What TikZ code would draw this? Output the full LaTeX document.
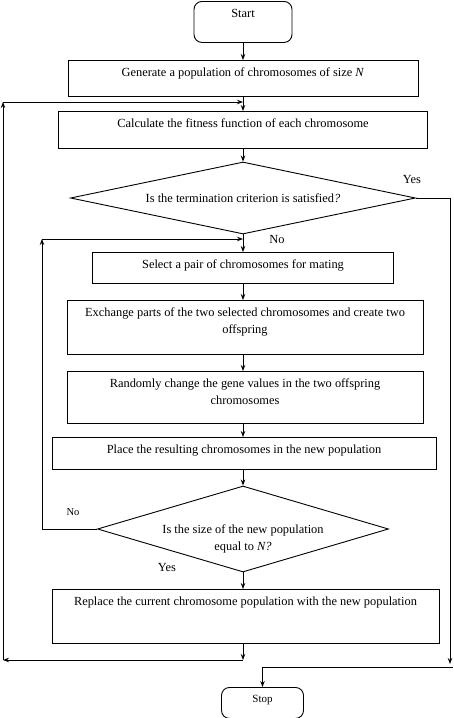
\documentclass[tikz,border=0pt]{standalone}
\usepackage{fontspec}
\setmainfont{Liberation Serif}
\usepackage{tikz}
\usetikzlibrary{arrows.meta,positioning,shapes.geometric}

\begin{document}
\begin{tikzpicture}[x=1pt,y=-1pt,font=\fontsize{12.4}{16.5}\selectfont]
	\tikzstyle{startstop} = [rectangle, rounded corners=8pt, draw=black, line width=0.9pt, 
	align=center, inner ysep=5pt, text height=11.5pt, anchor=north]
	\tikzstyle{process} = [rectangle, draw=black, line width=0.9pt, 
	align=center, inner ysep=5pt, text height=11.5pt, anchor=north]
	\tikzstyle{decision} = [diamond, draw=black, line width=0.9pt, inner sep=0pt, aspect=4]
	\tikzstyle{arrow} = [line width=0.9pt,-{Stealth[length=6pt,width=4.5pt]}]
	\tikzstyle{line} = [line width=0.9pt]
	\useasboundingbox (0,0) rectangle (453,718);
	\node (start) [startstop, minimum width=98pt, text depth=19.5pt] at (243,1) {Start};
	\node (generate) [process, minimum width=350pt, text depth=14.5pt] at (243,60) {Generate a population of chromosomes of size \textit{N}};
	\node (fitness) [process, minimum width=369pt, text depth=15.5pt] at (243,111) {Calculate the fitness function of each chromosome};
	\node (termination) [decision, minimum width=345pt, minimum height=72pt] at (243,198) {Is the termination criterion is satisfied\textit{?}};
	\node (select) [process, minimum width=301pt, text depth=9.5pt] at (243,252) {Select a pair of chromosomes for mating};
	\node (crossover) [process, minimum width=356pt, text height=28pt, text depth=16pt] at (245,300) {Exchange parts of the two selected chromosomes and create two\\offspring};
	\node (mutation) [process, minimum width=356pt, text height=28pt, text depth=14pt] at (245,371) {Randomly change the gene values in the two offspring\\chromosomes};
	\node (place) [process, minimum width=384pt, text depth=10.5pt] at (244,437) {Place the resulting chromosomes in the new population};
	\node (size) [decision, minimum width=291pt, minimum height=86pt] at (243,529) {\raisebox{-12.5pt}[0pt][0pt]{\begin{tabular}{@{}c@{}}Is the size of the new population\\equal to \textit{N?}\end{tabular}}};
	\node (replace) [process, minimum width=387pt, text depth=32.5pt] at (245.5,589) {Replace the current chromosome population with the new population};
	\node (stop) [startstop, minimum width=82pt, text height=10.5pt, text depth=10.5pt, font=\fontsize{11}{13}\selectfont] at (262.5,687) {Stop};
	\node (yes1) at (412,179) {Yes};
	\node (no1) at (277,239) {No};
	\node (no2) [font=\fontsize{10.5}{12}\selectfont] at (73,512) {No};
	\node (yes2) at (167,567) {Yes};
	% loop back to the fitness step
	\coordinate (outerA) at (243,660);
	\coordinate (outerB) at (3,660);
	\coordinate (outerC) at (3,102);
	\coordinate (outerD) at (243,102);
	% loop back to the selection step
	\coordinate (innerA) at (42,529);
	\coordinate (innerB) at (42,239);
	\coordinate (innerC) at (243,239);
	% way out to stop
	\coordinate (exitA) at (450,198);
	\coordinate (exitB) at (450,664);
	\coordinate (exitC) at (453,667);
	\coordinate (exitD) at (262.5,667);
	\draw [arrow] (start) -- (generate);
	\draw [arrow] (generate) -- (fitness);
	\draw [arrow] (fitness) -- (termination);
	\draw [arrow] (termination) -- (select);
	\draw [arrow] (select.south -| termination) -- (crossover.north -| termination);
	\draw [arrow] (crossover.south -| termination) -- (mutation.north -| termination);
	\draw [arrow] (mutation.south -| termination) -- (place.north -| termination);
	\draw [arrow] (place.south -| termination) -- (size);
	\draw [arrow] (size) -- (replace.north -| size);
	\draw [arrow] (replace.south -| size) -- (outerA);
	\draw [arrow] (outerA) -- (outerB);
	\draw [arrow] (outerB) -- (outerC);
	\draw [arrow] (outerC) -- (outerD);
	\draw [line] (size) -- (innerA);
	\draw [arrow] (innerA) -- (innerB);
	\draw [arrow] (innerB) -- (innerC);
	\draw [line] (termination) -- (exitA);
	\draw [arrow] (exitA) -- (exitB);
	\draw [arrow] (exitC) -- (exitD) -- (stop);
\end{tikzpicture}
\end{document}
